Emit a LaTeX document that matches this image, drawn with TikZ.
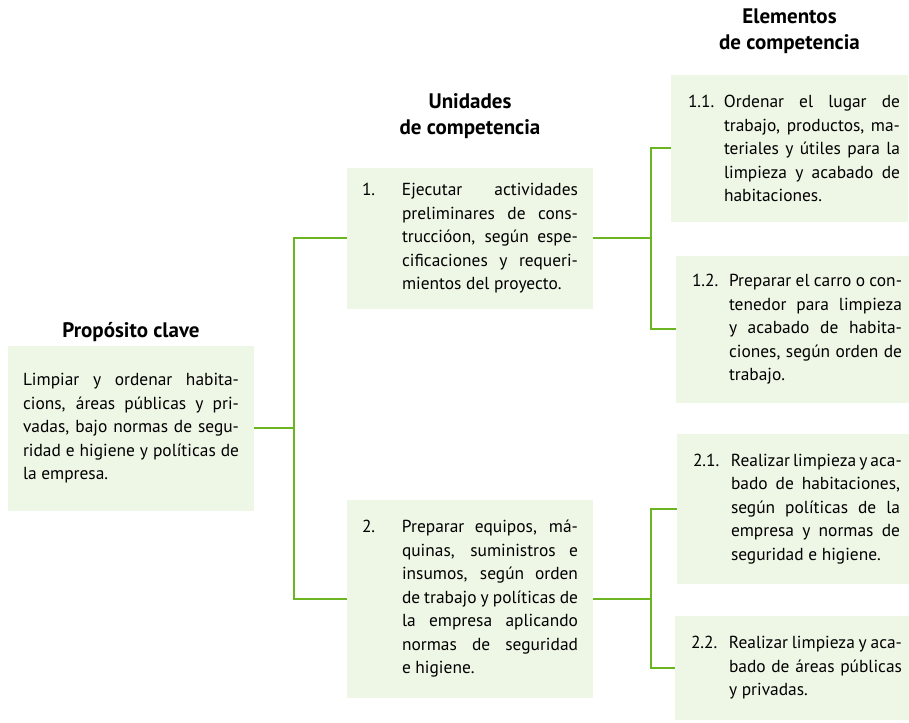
\documentclass[tikz,border=0pt]{standalone}
\usepackage{fontspec}
\setmainfont{PT Sans}
\usepackage{tikz}
\usetikzlibrary{positioning}

\definecolor{linegreen}{HTML}{6BB521}
\definecolor{boxgreen}{HTML}{EEF6E6}

\newlength{\colw}
% sangria: desplazamiento, numero, ancho numero, ancho texto, texto
\newcommand{\numtxt}[5]{\hspace*{#1pt}\makebox[#3pt][l]{#2}\parbox[t]{#4pt}{\spaceskip=0pt\xspaceskip=0pt\setlength{\colw}{#4pt}#5}}
% renglon justificado
\newcommand{\jl}[1]{\hbox to\colw{#1}}

\tikzset{
  box/.style={fill=boxgreen, inner sep=0pt, align=left, font=\fontsize{17.4}{23.5}\selectfont},
  title/.style={font=\fontsize{21}{26}\selectfont\bfseries, align=center, inner sep=0pt},
  conn/.style={linegreen, line width=2pt}
}

\begin{document}
\begin{tikzpicture}[x=1pt, y=1pt]
\useasboundingbox (0,0) rectangle (909,722);
\node[box, minimum width=246pt, minimum height=165pt, text width=216pt] (prop) at (131,293.5)
  {\numtxt{0}{}{0}{216}{\jl{Limpiar y ordenar habita-}\jl{cions, áreas públicas y pri-}\jl{vadas, bajo normas de segu-}\jl{ridad e higiene y políticas de}la empresa.}};
\node[box, minimum width=246pt, minimum height=141pt, text width=216pt] (u1) at (470,483.5)
  {\numtxt{0}{1.}{40}{176}{\jl{Ejecutar actividades}\jl{preliminares de cons-}\jl{truccióon, según espe-}\jl{cificaciones y requeri-}mientos del proyecto.}};
\node[box, minimum width=246pt, minimum height=198pt, text width=216pt] (u2) at (470,123)
  {\numtxt{0}{2.}{40}{176}{\jl{Preparar equipos, má-}\jl{quinas, suministros e}\jl{insumos, según orden}\jl{de trabajo y políticas de}\jl{la empresa aplicando}\jl{normas de seguridad}e higiene.}};
\node[box, minimum width=237pt, minimum height=147pt, text width=221pt] (e11) at (789.5,573.5)
  {\numtxt{9}{1.1.}{36}{176}{\jl{Ordenar el lugar de}\jl{trabajo, productos, ma-}\jl{teriales y útiles para la}\jl{limpieza y acabado de}habitaciones.}};
\node[box, minimum width=233pt, minimum height=147pt, text width=219pt] (e12) at (792.5,392.5)
  {\numtxt{9}{1.2.}{37}{173}{\jl{Preparar el carro o con-}\jl{tenedor para limpieza}\jl{y acabado de habita-}\jl{ciones, según orden de}trabajo.}};
\node[box, minimum width=232pt, minimum height=150pt, text width=214pt] (e21) at (793,213)
  {\numtxt{7}{2.1.}{38}{169}{\jl{Realizar limpieza y aca-}\jl{bado de habitaciones,}\jl{según políticas de la}\jl{empresa y normas de}seguridad e higiene.}};
\node[box, minimum width=234pt, minimum height=104pt, text width=220pt] (e22) at (792,54)
  {\numtxt{9}{2.2.}{38}{173}{\jl{Realizar limpieza y aca-}\jl{bado de áreas públicas}y privadas.}};

% titulos
\node[title, above=4pt of prop] (tprop) {Propósito clave};
\node[title, above=29pt of u1] (tunid) {Unidades\\de competencia};
\node[title, above=21pt of e11] (telem) {Elementos\\de competencia};

% conectores
\coordinate (ja) at (294,293.5);
\coordinate (jb) at (651,483.5);
\coordinate (jc) at (651,123);
\draw[conn] (prop.east) -- (ja);
\draw[conn] (u1.west) -| (ja) |- (u2.west);
\draw[conn] (u1.east) -- (jb);
\draw[conn] (e11.west) -| (jb) |- (e12.west);
\draw[conn] (u2.east) -- (jc);
\draw[conn] (e21.west) -| (jc) |- (e22.west);
\end{tikzpicture}
\end{document}
